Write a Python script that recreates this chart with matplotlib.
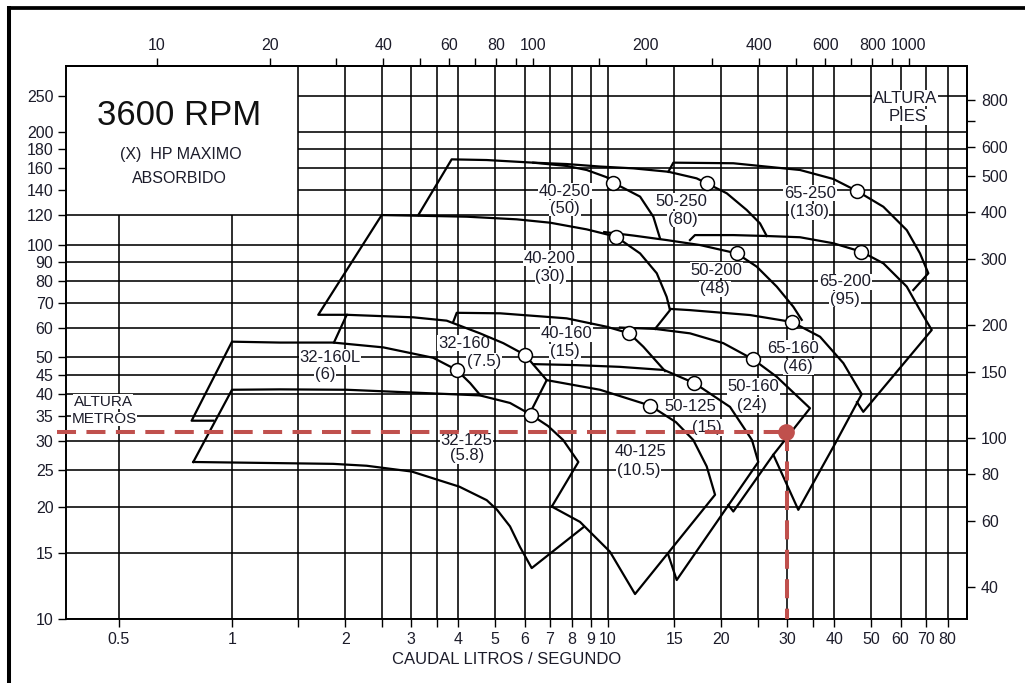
import matplotlib
matplotlib.use('Agg')
import matplotlib.pyplot as plt
from matplotlib.ticker import NullFormatter, NullLocator
from matplotlib.lines import Line2D

plt.rcParams['font.family'] = ['Liberation Sans', 'DejaVu Sans']
plt.rcParams['lines.scale_dashes'] = False

TXT = '#1c1c2a'
RED = '#c0504d'

# ---------------- axes definitions ----------------
x_ticks = [0.5, 1, 2, 3, 4, 5, 6, 7, 8, 9, 10, 15, 20, 30, 40, 50, 60, 70, 80]
x_minor = [1.5, 2.5, 3.5, 25, 35]
x_grid = [0.5, 1, 1.5, 2, 2.5, 3, 3.5, 4, 5, 6, 7, 8, 9, 10, 15, 20, 25, 30, 35, 40, 50, 60, 70, 80]
y_ticks = [10, 15, 20, 25, 30, 35, 40, 45, 50, 60, 70, 80, 90, 100, 120, 140, 160, 180, 200, 250]
gpm_ticks = [10, 20, 40, 60, 80, 100, 200, 400, 600, 800, 1000]
gpm_minor = [30, 50, 70, 90, 150, 300, 500, 700, 900]
ft_ticks = [40, 60, 80, 100, 150, 200, 300, 400, 500, 600, 800]
ft_minor = [700]

# ---------------- pump curves (flow L/s, head m) ----------------
q_32_160L = [0.892, 0.781, 1.0, 1.342, 1.859, 2.526, 3.43, 3.96, 4.3, 4.57]
h_32_160L = [33.9, 33.9, 55.1, 54.8, 54.8, 53.2, 49.9, 46.3, 42.7, 39.7]

q_32_125_top = [0.789, 1.0, 1.342, 2.019, 3.034, 4.566, 5.49, 6.23, 6.93, 7.6, 8.34, 7.09]
h_32_125_top = [26.3, 41.0, 41.1, 41.0, 40.3, 39.6, 37.8, 35.2, 32.8, 30.1, 26.3, 20.0]
q_32_125_bot = [0.789, 1.859, 2.281, 3.006, 4.023, 4.758, 5.07, 5.488, 5.834, 6.268, 8.595]
h_32_125_bot = [26.3, 26.0, 25.7, 24.8, 22.6, 20.8, 19.6, 17.7, 15.6, 13.7, 17.6]

q_32_160 = [1.867, 2.019, 3.034, 3.724, 4.566, 5.267, 6.016, 6.87, 6.2]
h_32_160 = [54.8, 65.0, 64.0, 62.7, 58.0, 54.6, 50.8, 43.5, 35.5]

q_40_200 = [2.019, 1.696, 2.501, 3.43, 4.21, 5.716, 7.013, 8.776, 10.5, 12.17, 13.48, 14.32, 14.62, 13.34]
h_40_200 = [65.0, 65.0, 120.0, 119.3, 118.8, 116.9, 114.5, 109.9, 105.1, 94.8, 83.9, 72.6, 66.9, 59.6]

q_40_250 = [3.13, 3.839, 4.758, 6.329, 7.763, 8.776, 9.92, 10.33, 12.17, 13.2, 13.75]
h_40_250 = [120.0, 169.0, 168.3, 165.6, 162.3, 158.3, 151.4, 146.4, 134.4, 118.8, 104.0]

q_50_250 = [6.329, 7.763, 9.521, 11.68, 14.47, 17.2, 18.3, 20.69, 23.38, 25.37, 26.43]
h_50_250 = [165.6, 164.2, 161.7, 159.9, 156.6, 150.4, 145.9, 137.2, 123.8, 114.0, 105.5]

q_65_250 = [14.47, 14.92, 21.54, 32.41, 39.73, 45.94, 53.98, 62.3, 67.57, 71.1, 64.86]
h_65_250 = [156.6, 165.6, 165.0, 158.3, 149.8, 139.1, 126.3, 109.4, 94.8, 83.9, 75.7]

q_65_200 = [16.52, 17.03, 21.54, 26.43, 32.41, 39.73, 47.2, 53.98, 62.3, 67.57, 72.6, 47.74, 45.94]
h_65_200 = [102.9, 106.1, 106.1, 105.5, 104.7, 100.9, 95.8, 89.2, 77.3, 66.9, 59.2, 35.8, 38.0]

q_50_200 = [9.77, 11.68, 14.32, 17.57, 22.0, 24.86, 28.1, 31.1, 32.75]
h_50_200 = [108.1, 105.8, 102.9, 99.8, 94.8, 87.4, 77.3, 68.3, 63.0]

q_40_160 = [3.878, 3.96, 5.162, 7.763, 9.92, 11.39, 12.42, 14.18]
h_40_160 = [62.3, 65.8, 65.6, 63.6, 60.4, 58.0, 53.4, 46.0]

q_50_160 = [10.76, 13.34, 16.52, 20.26, 24.35, 28.1, 34.45, 27.52, 21.54, 20.89]
h_50_160 = [60.1, 59.6, 58.0, 54.6, 49.4, 44.4, 36.6, 27.5, 19.4, 20.2]

q_65_160 = [14.62, 16.52, 23.86, 30.85, 36.63, 42.25, 47.28, 40.15, 32.07, 27.52]
h_65_160 = [67.4, 66.9, 64.9, 62.2, 56.8, 48.3, 39.9, 29.4, 19.6, 27.5]

q_50_125 = [6.35, 8.255, 10.76, 14.09, 16.98, 21.11, 24.15, 25.1, 15.23, 14.47]
h_50_125 = [48.0, 47.7, 47.2, 46.3, 42.7, 36.9, 30.1, 26.3, 12.73, 14.85]

q_40_125 = [6.87, 9.521, 12.94, 15.16, 16.86, 18.3, 19.26, 11.8, 10.12, 8.423, 7.086]
h_40_125 = [43.5, 41.0, 37.2, 33.6, 30.1, 25.6, 21.5, 11.68, 15.15, 18.2, 20.0]

curves = [
    (q_32_160L, h_32_160L), (q_32_125_top, h_32_125_top), (q_32_125_bot, h_32_125_bot),
    (q_32_160, h_32_160), (q_40_200, h_40_200), (q_40_250, h_40_250), (q_50_250, h_50_250),
    (q_65_250, h_65_250), (q_65_200, h_65_200), (q_50_200, h_50_200), (q_40_160, h_40_160),
    (q_50_160, h_50_160), (q_65_160, h_65_160), (q_50_125, h_50_125), (q_40_125, h_40_125),
]

# best efficiency points (circles)
bep_q = [3.96, 6.23, 6.02, 12.94, 11.39, 10.5, 10.33, 16.98, 24.35, 22.0, 18.3, 30.85, 47.2, 45.94]
bep_h = [46.3, 35.2, 50.8, 37.2, 58.0, 105.1, 146.4, 42.7, 49.4, 94.8, 145.9, 62.2, 95.8, 139.1]

# model labels
label_model = ['32-160L', '32-160', '40-160', '40-250', '40-200', '50-250', '65-250',
               '50-200', '65-200', '65-160', '50-160', '50-125', '40-125', '32-125']
label_hp = ['(6)', '(7.5)', '(15)', '(50)', '(30)', '(80)', '(130)',
            '(48)', '(95)', '(46)', '(24)', '(15)', '(10.5)', '(5.8)']
label_q1 = [1.822, 4.14, 7.763, 7.683, 7.013, 15.7, 34.45, 19.46, 42.69, 31.1, 24.35, 16.52, 12.17, 4.21]
label_h1 = [50.1, 54.6, 58.0, 139.1, 92.0, 130.8, 137.2, 85.6, 79.6, 52.9, 41.8, 36.9, 28.0, 30.1]
label_q2 = [1.768, 4.68, 7.683, 7.683, 7.013, 15.8, 34.3, 19.26, 42.69, 32.07, 24.1, 18.3, 12.04, 4.21]
label_h2 = [44.9, 48.9, 51.8, 125.1, 82.5, 117.1, 122.5, 76.2, 71.5, 47.2, 37.3, 32.5, 25.0, 27.3]

# operating point
op_q_line = 30.0
op_q_dot = 29.7
op_h = 31.7
op_q_start = 0.343

# ---------------- figure ----------------
fig = plt.figure(figsize=(10.25, 6.83), dpi=100)
ax = fig.add_axes([66 / 1025, 1 - 619.3 / 683, (967 - 66) / 1025, (619.3 - 66) / 683])
ax.set_xscale('log')
ax.set_yscale('log')
XMIN, XMAX = 0.3619, 90.1
YMIN, YMAX = 10, 300
ax.set_xlim(XMIN, XMAX)
ax.set_ylim(YMIN, YMAX)

# grid (the upper-left corner is left blank for the title box)
for v in x_grid:
    top = 120 if v < 1.5 else YMAX
    ax.vlines(v, YMIN, top, color='black', lw=1.15, zorder=1)
for v in y_ticks:
    left = 1.5 if v > 120 else XMIN
    ax.hlines(v, left, XMAX, color='black', lw=1.15, zorder=1)

# curves
for q, h in curves:
    ax.plot(q, h, color='black', lw=1.6, zorder=3, solid_joinstyle='round')

ax.plot(bep_q, bep_h, 'o', ms=10, mfc='white', mec='black', mew=1.1, zorder=5, linestyle='none')

for m, p, q1, h1, q2, h2 in zip(label_model, label_hp, label_q1, label_h1, label_q2, label_h2):
    ax.text(q1, h1, m, fontsize=12, color=TXT, ha='center', va='center', zorder=2,
            bbox=dict(facecolor='white', edgecolor='none', pad=0.5))
    ax.text(q2, h2, p, fontsize=12, color=TXT, ha='center', va='center', zorder=2,
            bbox=dict(facecolor='white', edgecolor='none', pad=0.5))

# operating point
ax.plot([op_q_start, op_q_dot], [op_h, op_h], color=RED, lw=2.9, dashes=(13.7, 7.5),
        zorder=6, clip_on=False, dash_capstyle='butt')
ax.plot([op_q_line, op_q_line], [op_h, YMIN], color=RED, lw=2.9, dashes=(13.7, 7.5),
        zorder=6, dash_capstyle='butt')
ax.plot([op_q_dot], [op_h], 'o', color=RED, ms=11, zorder=7)

# ticks
def fmt(v):
    return ('%g' % v)

ax.set_xticks(x_ticks, labels=[fmt(v) for v in x_ticks])
ax.set_xticks(x_minor, minor=True)
ax.xaxis.set_minor_formatter(NullFormatter())
ax.set_yticks(y_ticks, labels=[fmt(v) for v in y_ticks])
ax.yaxis.set_minor_locator(NullLocator())
ax.tick_params(which='both', direction='out', length=6, width=1.0, labelsize=11.5,
               pad=3, labelcolor=TXT, color='black')

secx = ax.secondary_xaxis('top', functions=(lambda q: q * 15.8503, lambda g: g / 15.8503))
secx.set_xticks(gpm_ticks, labels=[fmt(v) for v in gpm_ticks])
secx.set_xticks(gpm_minor, minor=True)
secx.xaxis.set_minor_formatter(NullFormatter())
secx.tick_params(which='both', direction='out', length=6, width=1.0, labelsize=11.5,
                 pad=3, labelcolor=TXT, color='black')

secy = ax.secondary_yaxis('right', functions=(lambda m: m * 3.28084, lambda f: f / 3.28084))
secy.set_yticks(ft_ticks, labels=[fmt(v) for v in ft_ticks])
secy.set_yticks(ft_minor, minor=True)
secy.yaxis.set_minor_formatter(NullFormatter())
secy.tick_params(which='both', direction='out', length=6, width=1.0, labelsize=11.5,
                 pad=4, labelcolor=TXT, color='black')

for sp in ax.spines.values():
    sp.set_linewidth(1.4)
for s in (secx, secy):
    for sp in s.spines.values():
        sp.set_linewidth(1.4)

# axis titles and box text
def fx(px):
    return px / 1025

def fy(py):
    return 1 - py / 683

fig.text(fx(507), fy(659), 'CAUDAL LITROS / SEGUNDO', fontsize=12, color=TXT,
         ha='center', va='center')
fig.text(fx(103), fy(401.7), 'ALTURA', fontsize=11, color=TXT, ha='center', va='center',
         bbox=dict(facecolor='white', edgecolor='none', pad=0.3))
fig.text(fx(104.3), fy(419), 'METROS', fontsize=11, color=TXT, ha='center', va='center',
         bbox=dict(facecolor='white', edgecolor='none', pad=0.3))
fig.text(fx(905), fy(98.3), 'ALTURA', fontsize=12, color=TXT, ha='center', va='center',
         bbox=dict(facecolor='white', edgecolor='none', pad=0.3))
fig.text(fx(907.3), fy(116.7), 'PIES', fontsize=12, color=TXT, ha='center', va='center',
         bbox=dict(facecolor='white', edgecolor='none', pad=0.3))

fig.text(fx(179), fy(125), '3600 RPM', fontsize=25, color='#111111', ha='center', va='baseline')
fig.text(fx(181), fy(159.3), '(X)  HP MAXIMO', fontsize=11.5, color=TXT, ha='center', va='baseline')
fig.text(fx(179.7), fy(182.7), 'ABSORBIDO', fontsize=11.5, color=TXT, ha='center', va='baseline')

# outer frame (left and top edges)
fig.add_artist(Line2D([fx(8.7), fx(8.7)], [0, fy(5.8)], transform=fig.transFigure,
                      color='black', lw=2.9, solid_capstyle='butt'))
fig.add_artist(Line2D([fx(6.7), 1], [fy(7.5), fy(7.5)], transform=fig.transFigure,
                      color='black', lw=2.7, solid_capstyle='butt'))

fig.savefig('out.png', dpi=100)
